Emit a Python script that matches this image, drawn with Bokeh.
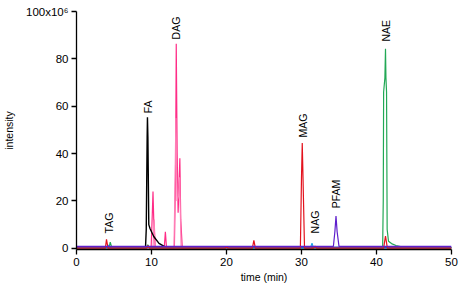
from bokeh.plotting import figure
from bokeh.models import FixedTicker, CustomJSTickFormatter, ColumnDataSource
from bokeh.core.properties import value
from bokeh.embed import file_html
from bokeh.resources import INLINE
import math

# ---- data (time in min, intensity in 1e6 counts) ----
fa_time = [0, 9.2, 9.3, 9.42, 9.46, 9.52, 9.64, 9.8, 10.3, 11.0, 11.8, 12.5, 50]
fa_int = [0.3, 0.3, 8, 47, 55.3, 47, 10, 8.4, 5.0, 2.1, 0.6, 0.3, 0.3]

dag_time = [0, 9.95, 10.1, 10.2, 10.3, 10.5, 11.7, 11.85, 12.0, 13.05, 13.2, 13.3,
            13.42, 13.55, 13.7, 13.78, 13.9, 14.1, 50]
dag_int = [0.3, 0.3, 14, 24, 12, 0.3, 0.3, 7, 0.3, 0.3, 30, 86.4,
           40, 15, 30, 38, 12, 0.3, 0.3]

dag2_time = [0, 10.2, 10.35, 10.5, 13.0, 13.15, 13.25, 13.4, 13.6, 13.75, 13.95, 50]
dag2_int = [0.2, 0.2, 12, 0.2, 0.2, 30, 55, 20, 22, 30, 0.2, 0.2]

mag_time = [0, 3.85, 4.0, 4.2, 9.4, 9.55, 9.7, 19.85, 20.0, 20.15, 23.45, 23.65, 23.85,
            29.85, 30.0, 30.1, 30.2, 30.4, 31.6, 31.8, 32.0, 40.95, 41.2, 41.45, 50]
mag_int = [0.1, 0.1, 3.8, 0.1, 0.1, 1.2, 0.1, 0.1, 0.9, 0.1, 0.1, 3.4, 0.1,
           0.1, 30, 44.5, 30, 0.1, 0.1, 0.9, 0.1, 0.1, 5.2, 0.1, 0.1]

nae_time = [0, 4.35, 4.5, 4.7, 9.35, 9.5, 9.7, 40.82, 40.9, 40.95, 41.12, 41.2,
            41.26, 41.34, 41.42, 41.6, 42.0, 42.6, 43.5, 50]
nae_int = [0.3, 0.3, 2.6, 0.3, 0.3, 1.5, 0.3, 0.3, 20, 66, 72, 84.3,
           72, 66, 8, 3.0, 2.0, 1.2, 0.5, 0.3]

nag_time = [0, 4.1, 4.25, 4.4, 31.2, 31.4, 31.6, 50]
nag_int = [0.2, 0.2, 1.4, 0.2, 0.2, 2.2, 0.2, 0.2]

pfam_time = [0, 34.25, 34.45, 34.6, 34.75, 35.0, 50]
pfam_int = [0.8, 0.8, 7, 13.6, 7, 0.8, 0.8]

base_time = [0, 50]
base_int = [0.5, 0.5]

peak_names = ["TAG", "FA", "DAG", "MAG", "NAG", "PFAM", "NAE"]
peak_time = [4.3, 9.5, 13.3, 30.2, 31.8, 34.6, 41.2]
label_y = [6.3, 57.0, 88.2, 46.8, 6.3, 16.9, 87.3]

x_ticks = [0, 10, 20, 30, 40, 50]
y_ticks = [0, 20, 40, 60, 80, 100]

# ---- figure ----
p = figure(width=459, height=289, x_range=(0, 50), y_range=(-0.5, 100),
           output_backend="svg", toolbar_location=None,
           min_border_left=74, min_border_right=8, min_border_top=11, min_border_bottom=40)
p.xgrid.visible = False
p.ygrid.visible = False
p.outline_line_color = None
p.background_fill_color = "white"
p.border_fill_color = "white"

series = [
    (dag_time, dag_int, "#FF2D87", 1.2),
    (dag2_time, dag2_int, "#FF7FB6", 1.2),
    (fa_time, fa_int, "#000000", 1.4),
    (nae_time, nae_int, "#22A855", 1.2),
    (nag_time, nag_int, "#1EA7E6", 1.2),
    (base_time, base_int, "#2C3FD0", 1.2),
    (mag_time, mag_int, "#E3121D", 1.2),
    (pfam_time, pfam_int, "#5E1ECC", 1.2),
]
for t, y, c, w in series:
    p.line(t, y, line_color=c, line_width=w)

src = ColumnDataSource(dict(x=peak_time, y=label_y, text=peak_names))
p.text(x="x", y="y", text="text", source=src, angle=math.pi / 2,
       text_align="left", text_baseline="middle",
       text_font=value("Liberation Sans"), text_font_size="10.5px", text_color="black")

font = "Liberation Sans"
for ax in (p.xaxis[0], p.yaxis[0]):
    ax.major_tick_out = 5
    ax.major_tick_in = 0
    ax.minor_tick_out = 0
    ax.minor_tick_in = 0
    ax.axis_line_color = "black"
    ax.axis_line_width = 1.3
    ax.major_tick_line_color = "black"
    ax.major_tick_line_width = 1.3
    ax.major_label_text_font = font
    ax.major_label_text_font_size = "11.5px"
    ax.major_label_text_color = "black"
    ax.axis_label_text_font = font
    ax.axis_label_text_font_size = "10.5px"
    ax.axis_label_text_font_style = "normal"
    ax.axis_label_text_color = "black"

p.xaxis.ticker = FixedTicker(ticks=x_ticks)
p.yaxis.ticker = FixedTicker(ticks=y_ticks)
p.yaxis.formatter = CustomJSTickFormatter(
    code="return tick == 100 ? '100x10\u2076' : tick.toFixed(0);")
p.xaxis.axis_label = "time (min)"
p.yaxis.axis_label = "intensity"
p.xaxis.major_label_standoff = 3
p.yaxis.major_label_standoff = 3
p.xaxis.axis_label_standoff = 2
p.yaxis.axis_label_standoff = 8

open("out.html", "w").write(file_html(p, INLINE))
